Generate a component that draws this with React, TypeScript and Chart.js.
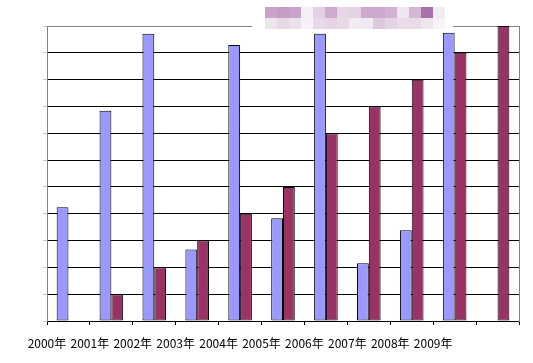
import React, { useEffect, useRef } from "react";
import { Chart, registerables } from "chart.js";

Chart.register(...registerables);

const categories = [
  "2000年", "2001年", "2002年", "2003年", "2004年",
  "2005年", "2006年", "2007年", "2008年", "2009年", "",
];
const seriesA: (number | null)[] = [4.24, 7.84, 10.71, 2.67, 10.29, 3.83, 10.71, 2.15, 3.38, 10.75, null];
const seriesB: (number | null)[] = [null, 1, 2, 3, 4, 5, 7, 8, 9, 10, 11];
const yMax = 11;

// blurred title mosaic (decoration)
const mosaicRow1 = ["#c9a3c9", "#c59cc5", "#c9a3c9", "#f4eff4", "#e4d0e4", "#cfa9cf", "#e6d6e6", "#e3d3e3", "#cfa8cf", "#cca8cc", "#d2b2d2", "#efe6ef", "#d6b8d6", "#a971a9", "#f2ebf2"];
const mosaicRow2 = ["#eee4ee", "#e7d7e7", "#ece0ec", "#f6f1f6", "#e8d9e8", "#e5d4e5", "#e8d9e8", "#f2ebf2", "#f1e9f1", "#dcc7dc", "#e4d3e4", "#e9dbe9", "#e9dbe9", "#efe5ef", "#f7f3f7"];

const titlePlugin = {
  id: "blurTitle",
  afterDraw(chart: any) {
    const ctx = chart.ctx;
    ctx.save();
    ctx.fillStyle = "#ffffff";
    ctx.fillRect(252, 0, 201, 31);
    const x0 = 265, w = 12;
    mosaicRow1.forEach((c, i) => {
      ctx.fillStyle = c;
      ctx.fillRect(x0 + i * w, 7, w, 11);
    });
    mosaicRow2.forEach((c, i) => {
      ctx.fillStyle = c;
      ctx.fillRect(x0 + i * w, 18, w, 11);
    });
    ctx.restore();
  },
};

export default function App() {
  const ref = useRef<HTMLCanvasElement | null>(null);
  useEffect(() => {
    if (!ref.current) return;
    const font = { family: "'SimSun', 'Noto Sans CJK SC', sans-serif", size: 12 };
    const chart = new Chart(ref.current, {
      type: "bar",
      data: {
        labels: categories,
        datasets: [
          {
            data: seriesA,
            backgroundColor: "#9999ff",
            borderColor: "#000000",
            borderWidth: 1,
            borderSkipped: false,
            categoryPercentage: 0.55,
            barPercentage: 1,
          },
          {
            data: seriesB,
            backgroundColor: "#993366",
            borderColor: "#000000",
            borderWidth: 1,
            borderSkipped: false,
            categoryPercentage: 0.55,
            barPercentage: 1,
          },
        ],
      },
      options: {
        responsive: false,
        animation: false,
        events: [],
        layout: { padding: { left: 0, top: 26, right: 14, bottom: 0 } },
        plugins: {
          legend: { display: false },
          tooltip: { enabled: false },
          title: { display: false },
        },
        scales: {
          x: {
            type: "category",
            offset: true,
            grid: {
              offset: true,
              drawOnChartArea: false,
              drawTicks: true,
              tickLength: 4,
              color: "#000000",
            },
            border: { color: "#000000" },
            ticks: {
              color: "#000000",
              font,
              padding: 11,
              labelOffset: -21.5,
              maxRotation: 0,
              autoSkip: false,
            },
            afterFit: (s: any) => {
              s.height = 42;
            },
          },
          y: {
            min: 0,
            max: yMax,
            ticks: { display: false, stepSize: 1 },
            grid: {
              color: (c: any) => (c.tick && c.tick.value === yMax ? "#808080" : "#000000"),
              tickColor: "#c8c8c8",
              tickLength: 4,
            },
            border: { color: "#808080" },
            afterFit: (s: any) => {
              s.width = 47;
            },
          },
          yRight: {
            position: "right",
            min: 0,
            max: yMax,
            ticks: { display: false },
            grid: { drawOnChartArea: false, drawTicks: false },
            border: { color: "#808080" },
            afterFit: (s: any) => {
              s.width = 0;
            },
          },
        },
      },
      plugins: [titlePlugin],
    } as any);
    return () => chart.destroy();
  }, []);
  return (
    <canvas
      ref={ref}
      width={533}
      height={363}
      style={{ position: "fixed", left: 0, top: 0, width: 533, height: 363, display: "block", background: "#ffffff" }}
    />
  );
}
